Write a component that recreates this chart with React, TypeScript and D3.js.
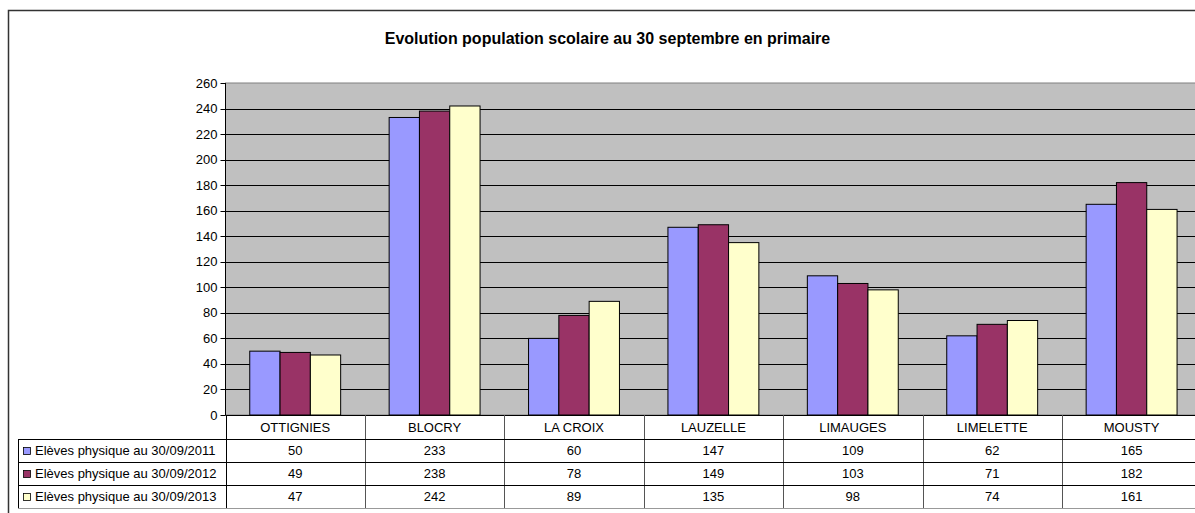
import { scaleBand, scaleLinear, range } from "d3";

const CATEGORIES = [
  "OTTIGNIES",
  "BLOCRY",
  "LA CROIX",
  "LAUZELLE",
  "LIMAUGES",
  "LIMELETTE",
  "MOUSTY",
];

const SERIES_NAMES = [
  "Elèves physique au 30/09/2011",
  "Elèves physique au 30/09/2012",
  "Elèves physique au 30/09/2013",
];

const VALUES_2011 = [50, 233, 60, 147, 109, 62, 165];
const VALUES_2012 = [49, 238, 78, 149, 103, 71, 182];
const VALUES_2013 = [47, 242, 89, 135, 98, 74, 161];

const Y_TICKS = [0, 20, 40, 60, 80, 100, 120, 140, 160, 180, 200, 220, 240, 260];

const SERIES = [VALUES_2011, VALUES_2012, VALUES_2013];
const COLORS = ["#9999FF", "#993366", "#FFFFCC"];

const TITLE = "Evolution population scolaire au 30 septembre en primaire";

// layout (the right side of the original chart is cut off by the picture)
const W = 1195;
const H = 513;
const plotLeft = 225.5;
const plotTop = 83;
const plotBottom = 415;
const plotRight = plotLeft + 7 * 139.4;
const legendLeft = 18;
const headerH = 24;
const rowH = 23;
const FONT = "'Liberation Sans', Arial, sans-serif";

export default function App() {
  const x = scaleBand<string>()
    .domain(CATEGORIES)
    .range([plotLeft, plotRight])
    .padding(0);

  const inner = scaleBand<number>()
    .domain(range(SERIES.length))
    .range([0, x.bandwidth()])
    .paddingInner(0)
    .paddingOuter(0.8);

  const y = scaleLinear().domain([0, 260]).range([plotBottom, plotTop]);

  const headerBottom = plotBottom + headerH;
  const rowTops = SERIES.map((_, i) => headerBottom + i * rowH);
  const tableBottom = headerBottom + SERIES.length * rowH;

  return (
    <div style={{ position: "absolute", left: 0, top: 0 }}>
      <svg width={W} height={H} style={{ display: "block", background: "#fff" }}>
        {/* outer frame */}
        <rect
          x={8.5}
          y={10.5}
          width={1198}
          height={520}
          fill="#fff"
          stroke="#333"
          strokeWidth={1.5}
        />

        <text
          x={607.5}
          y={44}
          textAnchor="middle"
          fontFamily={FONT}
          fontWeight="bold"
          fontSize={16}
          fill="#000"
        >
          {TITLE}
        </text>

        {/* plot area */}
        <rect
          x={plotLeft}
          y={plotTop}
          width={plotRight - plotLeft}
          height={plotBottom - plotTop}
          fill="#C0C0C0"
          stroke="#808080"
        />

        {Y_TICKS.filter((t) => t > 0 && t < 260).map((t) => (
          <line
            key={t}
            x1={plotLeft}
            x2={plotRight}
            y1={Math.round(y(t)) + 0.5}
            y2={Math.round(y(t)) + 0.5}
            stroke="#000"
          />
        ))}

        {/* y axis */}
        <line x1={plotLeft} x2={plotLeft} y1={plotTop} y2={plotBottom} stroke="#000" />
        {Y_TICKS.map((t) => (
          <g key={t}>
            <line
              x1={plotLeft - 5}
              x2={plotLeft}
              y1={Math.round(y(t)) + 0.5}
              y2={Math.round(y(t)) + 0.5}
              stroke="#000"
            />
            <text
              x={plotLeft - 8}
              y={y(t)}
              dy="0.35em"
              textAnchor="end"
              fontFamily={FONT}
              fontSize={13}
              fill="#000"
            >
              {t}
            </text>
          </g>
        ))}

        {/* bars */}
        {CATEGORIES.map((c, ci) =>
          SERIES.map((vals, si) => (
            <rect
              key={c + si}
              x={(x(c) ?? 0) + (inner(si) ?? 0)}
              y={y(vals[ci])}
              width={inner.bandwidth()}
              height={plotBottom - y(vals[ci])}
              fill={COLORS[si]}
              stroke="#000"
              strokeWidth={1}
            />
          ))
        )}

        {/* axis line */}
        <line x1={plotLeft} x2={plotRight} y1={plotBottom + 0.5} y2={plotBottom + 0.5} stroke="#000" />

        {/* data table */}
        <g fontFamily={FONT} fontSize={13} fill="#000">
          {CATEGORIES.map((c) => (
            <text
              key={c}
              x={(x(c) ?? 0) + x.bandwidth() / 2}
              y={plotBottom + headerH / 2}
              dy="0.35em"
              textAnchor="middle"
            >
              {c}
            </text>
          ))}

          {[plotLeft, ...CATEGORIES.map((c) => (x(c) ?? 0) + x.bandwidth())].map((vx, i) => (
            <line
              key={i}
              x1={Math.round(vx) + 0.5}
              x2={Math.round(vx) + 0.5}
              y1={plotBottom}
              y2={tableBottom}
              stroke={i === 0 ? "#000" : "#555"}
            />
          ))}

          {rowTops.map((ry, i) => (
            <line
              key={i}
              x1={legendLeft}
              x2={plotRight}
              y1={ry + 0.5}
              y2={ry + 0.5}
              stroke="#000"
            />
          ))}
          <line
            x1={legendLeft}
            x2={plotRight}
            y1={tableBottom + 0.5}
            y2={tableBottom + 0.5}
            stroke="#999"
          />
          <line
            x1={legendLeft + 0.5}
            x2={legendLeft + 0.5}
            y1={headerBottom}
            y2={tableBottom}
            stroke="#000"
          />

          {SERIES.map((vals, si) => (
            <g key={si}>
              <rect
                x={23.5}
                y={rowTops[si] + rowH / 2 - 3}
                width={7}
                height={7}
                fill={COLORS[si]}
                stroke="#000"
                strokeWidth={0.8}
              />
              <text x={35} y={rowTops[si] + rowH / 2} dy="0.38em">
                {SERIES_NAMES[si]}
              </text>
              {vals.map((v, ci) => (
                <text
                  key={ci}
                  x={(x(CATEGORIES[ci]) ?? 0) + x.bandwidth() / 2}
                  y={rowTops[si] + rowH / 2}
                  dy="0.38em"
                  textAnchor="middle"
                >
                  {v}
                </text>
              ))}
            </g>
          ))}
        </g>
      </svg>
    </div>
  );
}
